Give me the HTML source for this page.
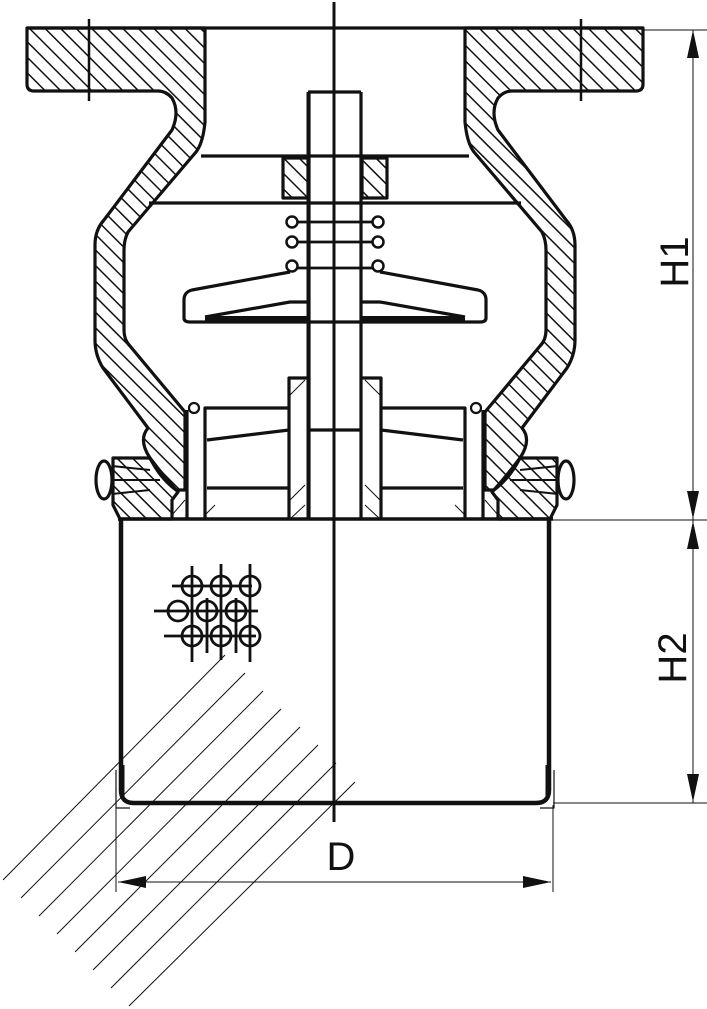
<!DOCTYPE html>
<html><head><meta charset="utf-8"><style>html,body{margin:0;padding:0;background:#fff}svg{display:block}</style></head><body>
<svg width="707" height="1009" viewBox="0 0 707 1009" xmlns="http://www.w3.org/2000/svg" font-family="Liberation Sans, sans-serif">
<defs>
<pattern id="h" patternUnits="userSpaceOnUse" width="11" height="11" patternTransform="rotate(-45)">
<line x1="0" y1="0" x2="0" y2="11" stroke="#111" stroke-width="3"/>
</pattern>
<pattern id="hR" patternUnits="userSpaceOnUse" width="11" height="11" patternTransform="rotate(45)">
<line x1="0" y1="0" x2="0" y2="11" stroke="#111" stroke-width="3"/>
</pattern>
<g id="S" stroke="#111" stroke-width="3.2" fill="none" stroke-linejoin="round">
<line x1="89" y1="19" x2="89" y2="101" stroke-width="2.5"/>
<path d="M201,156 L335,156 M149,203 L335,203" />
<path d="M290,222 L335,222 M290,242 L335,242 M290,268 L335,268" stroke-width="2.8"/>
<circle cx="292" cy="222" r="5.5" fill="#fff" stroke-width="2.5"/>
<circle cx="292" cy="242" r="5.5" fill="#fff" stroke-width="2.5"/>
<circle cx="292" cy="266" r="5.5" fill="#fff" stroke-width="2.5"/>
<path d="M290,272 L192,290 Q184,292 184,300 L184,318 Q184,322 190,322 L335,322" />
<path d="M205,317 L290,302 L309,302" />
<rect x="205" y="316" width="105" height="6" fill="#111" stroke="none"/>
<path d="M309,92 L335,92 M309,92 L309,519 M309,430 L335,430"/>
<path d="M289,519 L289,378 L309,378"/>
<path d="M187,519 L187,410 M205,519 L205,408 L289,408 M207,440 L289,430 M207,488 L289,488"/>
<circle cx="194" cy="408" r="5" fill="#fff" stroke-width="2.2"/>
<path d="M172,515 L185,500 M205,515 L215,505 M290,395 L305,380 M290,500 L305,485 M290,519 L305,505" stroke-width="1"/>
<path d="M121,519 L121,790 Q121,803 134,803 L335,803" stroke-width="4.5"/>
<path d="M116,770 L116,808 L130,808" stroke-width="1.2"/>
<path d="M123,765 L123,800" stroke-width="3"/>
</g>
</defs>
<g stroke="#111" stroke-width="3.2" stroke-linejoin="round">
<path fill="url(#h)" d="M27,28 L205,28 L205,122 Q203,143 196,152 L128,232 Q124,240 124,250 L124,330 Q124,340 130,346 L185,412 L185,490 L176,490 Q160,478 150,458 Q138,440 148,428 L103,368 Q95,355 95,340 L95,245 Q95,230 104,220 L172,130 Q180,112 172,98 Q166,91 158,91 L34,91 Q27,91 27,84 Z"/>
<path fill="url(#h)" d="M113,458 L150,458 Q165,478 178,492 L172,500 L172,519 L120,519 L113,505 Z"/>
<rect x="283" y="158" width="25" height="40" fill="url(#h)"/>
<ellipse cx="104" cy="480" rx="8" ry="19" fill="#fff"/>
<path fill="none" d="M112,466 L150,470 M112,494 L150,490 M112,480 L160,480" stroke-width="2"/>
</g>
<g stroke="#111" stroke-width="3.2" stroke-linejoin="round" transform="matrix(-1,0,0,1,670,0)">
<path fill="url(#hR)" d="M27,28 L205,28 L205,122 Q203,143 196,152 L128,232 Q124,240 124,250 L124,330 Q124,340 130,346 L185,412 L185,490 L176,490 Q160,478 150,458 Q138,440 148,428 L103,368 Q95,355 95,340 L95,245 Q95,230 104,220 L172,130 Q180,112 172,98 Q166,91 158,91 L34,91 Q27,91 27,84 Z"/>
<path fill="url(#hR)" d="M113,458 L150,458 Q165,478 178,492 L172,500 L172,519 L120,519 L113,505 Z"/>
<rect x="283" y="158" width="25" height="40" fill="url(#hR)"/>
<ellipse cx="104" cy="480" rx="8" ry="19" fill="#fff"/>
<path fill="none" d="M112,466 L150,470 M112,494 L150,490 M112,480 L160,480" stroke-width="2"/>
</g>
<use href="#S"/>
<use href="#S" transform="matrix(-1,0,0,1,670,0)"/>
<g stroke="#111" fill="none">
<line x1="118" y1="519" x2="553" y2="519" stroke-width="3.5"/>
<line x1="27" y1="28" x2="643" y2="28" stroke-width="3.2"/>
<line x1="334" y1="2" x2="334" y2="822" stroke-width="3"/>
<line x1="308" y1="92" x2="308" y2="519" stroke-width="3"/>
<line x1="361" y1="92" x2="361" y2="519" stroke-width="3"/>
<line x1="308" y1="92" x2="361" y2="92" stroke-width="3"/>
<g stroke-width="2.8">
<circle cx="192" cy="586" r="10"/><circle cx="221" cy="586" r="10"/><circle cx="250" cy="586" r="10"/>
<circle cx="178" cy="611" r="10"/><circle cx="207" cy="611" r="10"/><circle cx="236" cy="611" r="10"/>
<circle cx="192" cy="636" r="10"/><circle cx="221" cy="636" r="10"/><circle cx="250" cy="636" r="10"/>
<path d="M172,586 L252,586 M154,611 L258,611 M164,636 L256,636 M192,566 L192,662 M221,564 L221,660 M250,564 L250,662 M207,598 L207,653 M236,598 L236,653"/>
</g>
<g stroke-width="1">
<path d="M3,880 L225,655 M21,898 L245,673 M39,916 L263,691 M57,934 L281,709 M75,952 L300,727 M93,970 L318,745 M111,988 L336,763 M129,1006 L355,782"/>
</g>
<g stroke-width="1">
<line x1="116" y1="805" x2="116" y2="892"/><line x1="553" y1="805" x2="553" y2="892"/>
<line x1="118" y1="882" x2="551" y2="882"/>
<line x1="643" y1="30" x2="707" y2="30"/><line x1="553" y1="520" x2="707" y2="520"/><line x1="553" y1="803" x2="707" y2="803"/>
<line x1="693" y1="30" x2="693" y2="803"/>
</g>
<g fill="#111" stroke="none">
<path d="M118,882 L146,876 L146,888 Z"/><path d="M551,882 L523,876 L523,888 Z"/>
<path d="M693,30 L687,58 L699,58 Z"/><path d="M693,519 L687,491 L699,491 Z"/>
<path d="M693,521 L687,549 L699,549 Z"/><path d="M693,802 L687,774 L699,774 Z"/>
</g>
<text x="341" y="870" font-size="40" text-anchor="middle" fill="#111" stroke="none">D</text>
<text transform="translate(688,262) rotate(-90)" font-size="40" text-anchor="middle" fill="#111" stroke="none">H1</text>
<text transform="translate(686,658) rotate(-90)" font-size="40" text-anchor="middle" fill="#111" stroke="none">H2</text>
</g>
</svg>
</body></html>
